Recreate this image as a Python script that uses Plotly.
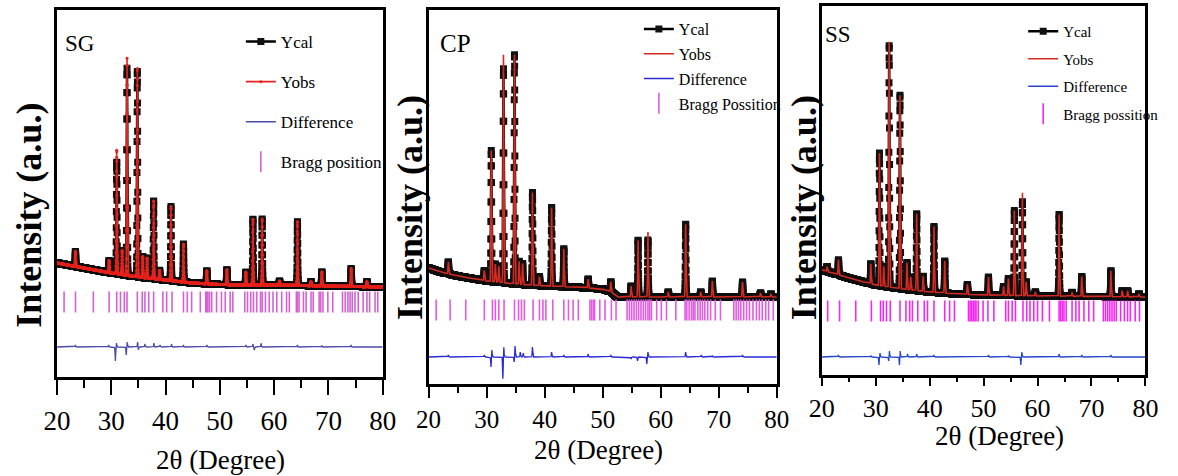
import numpy as np
import plotly.graph_objects as go

W, H = 1178, 476

# ---------------- data ----------------
# 2-theta grid of the measurement
two_theta = np.arange(20.0, 80.0001, 0.015)

# --- SG panel ---
sg_bg_x = [20, 22, 25, 30, 35, 40, 45, 50, 55, 60, 70, 80]
sg_bg_y = [114, 112, 109, 104, 100, 97, 94, 92.5, 92, 92, 91, 90]
sg_peak_pos = [23.4, 29.6, 31.0, 32.0, 32.9, 34.8, 35.8, 36.6, 37.8, 38.9, 41.0, 43.3,
               47.6, 51.3, 54.8, 56.1, 57.8, 61.0, 64.3, 66.8, 68.8, 74.2, 77.1]
sg_peak_h = [15, 12, 112, 24, 207, 206, 21, 20, 78, 9, 74, 38,
             13, 15, 13, 66, 66, 4, 64, 4, 14, 18, 5]
sg_obs_excess_pos = [31.0, 32.9, 34.8]
sg_obs_excess_h = [12, 10, 3]
sg_diff_pos = [23.4, 29.5, 30.75, 30.95, 32.75, 32.95, 34.85, 35.0, 36.2, 37.85, 39.0,
               41.1, 43.3, 47.6, 54.8, 56.1, 56.35, 57.6, 64.3, 68.8, 74.2]
sg_diff_h = [2, 2, -14, 4, -8, 5, 5, -3, 3, 4, 2, 3, 2, 2, 2, 3, -3, 4, 2, 1.5, 2]
sg_diff_base = 30
sg_bragg = [21.3, 23.4, 26.7, 29.6, 31.0, 31.7, 32.4, 32.9, 34.8, 35.7, 36.2, 36.9, 37.8,
            39.5, 40.2, 41.2, 43.3, 44.0, 44.8, 46.4, 47.4, 47.6, 47.8, 48.1, 48.5, 49.4,
            50.3, 51.0, 51.9, 52.4, 54.6, 55.1, 55.7, 56.2, 56.8, 57.5, 57.8, 58.4, 59.1,
            59.8, 60.5, 61.4, 62.3, 62.8, 64.1, 64.3, 64.6, 65.4, 65.9, 66.8, 67.2, 68.3,
            68.6, 69.0, 69.9, 70.8, 72.6, 73.1, 73.6, 74.0, 74.4, 74.9, 75.5, 76.4, 77.1,
            77.6, 78.6, 79.1]
sg_bragg_level = 75

# --- CP panel ---
cp_bg_x = [20, 22, 25, 30, 35, 40, 45, 50, 51.5, 52.5, 60, 70, 80]
cp_bg_y = [116, 112, 108, 103, 100, 98, 97, 95, 92, 87, 87, 87, 87]
cp_peak_pos = [23.4, 29.6, 30.8, 31.5, 32.1, 32.9, 34.8, 35.6, 36.2, 37.9, 39.1, 41.2,
               43.3, 47.5, 51.4, 54.9, 56.1, 57.8, 61.3, 64.3, 66.9, 68.9, 74.1, 77.2, 79.0]
cp_peak_h = [12, 10, 131, 18, 16, 214, 230, 23, 21, 93, 9, 79,
             38, 9, 10, 11, 57, 57, 5, 73, 5, 16, 15, 4, 3]
cp_obs_excess_pos = [32.9, 57.8]
cp_obs_excess_h = [14, 8]
cp_diff_pos = [23.4, 29.6, 30.75, 30.9, 32.8, 32.95, 34.75, 34.9, 35.8, 36.3, 37.9, 41.2,
               43.3, 47.5, 51.4, 54.9, 56.0, 57.6, 57.8, 64.3, 67.0, 68.9, 74.1]
cp_diff_h = [2, 2, -10, 7, -22, 10, -5, 11, 5, 4, 10, 5, 2, 3, 2, -2, -4, -7, 5, 5, 2, 1.5, 2]
cp_diff_base = 27
cp_bragg = [21.3, 23.7, 26.4, 29.6, 31.0, 31.5, 32.1, 33.0, 34.8, 35.5, 36.0, 36.5, 38.0,
            39.1, 39.7, 40.2, 41.4, 43.3, 44.1, 44.9, 45.8, 47.8, 48.1, 48.4, 48.6, 49.5,
            50.4, 51.5, 52.3, 54.2, 54.6, 55.0, 55.4, 55.8, 56.2, 56.6, 57.0, 57.4, 57.8,
            58.1, 58.4, 59.3, 60.1, 61.0, 62.6, 64.2, 64.5, 64.9, 65.3, 65.6, 65.9, 66.4,
            66.8, 67.2, 67.6, 68.1, 68.6, 69.4, 70.3, 72.6, 73.0, 73.4, 73.8, 74.3, 74.8,
            75.3, 75.9, 76.5, 77.0, 77.5, 78.1, 78.6, 79.4]
cp_bragg_level = 74

# --- SS panel ---
ss_bg_x = [20, 22, 25, 30, 35, 40, 45, 50, 60, 70, 80]
ss_bg_y = [105, 102, 97, 90, 86, 83, 81, 80, 79, 78.5, 78]
ss_peak_pos = [21.0, 23.1, 29.1, 30.7, 31.5, 32.5, 34.5, 35.8, 36.5, 37.6, 38.8, 40.8,
               42.8, 47.0, 50.9, 53.7, 54.6, 55.7, 57.2, 57.9, 59.6, 64.0, 66.4, 68.2,
               73.6, 75.7, 76.7, 78.8]
ss_peak_h = [5, 15, 20, 133, 20, 242, 194, 27, 13, 77, 15, 66,
             32, 10, 18, 9, 17, 85, 94, 14, 4, 82, 4, 20,
             26, 6, 6, 3]
ss_obs_excess_pos = [32.5, 57.2]
ss_obs_excess_h = [4, 9]
ss_diff_pos = [23.1, 29.1, 30.6, 30.8, 32.4, 32.55, 34.4, 34.55, 35.9, 37.6, 40.8,
               50.9, 54.6, 56.9, 57.1, 64.0, 68.2, 73.6]
ss_diff_h = [2, 1.5, -8, 4, -4, 6, -8, 6, 3, 3, 2, 2, 1.5, -8, 5, 3, 2, 2]
ss_diff_base = 18
ss_bragg = [21.1, 23.3, 26.3, 29.2, 30.9, 31.4, 32.0, 32.7, 34.5, 35.6, 36.3, 36.8, 37.8,
            39.0, 39.6, 40.8, 42.8, 43.7, 44.6, 47.2, 47.5, 47.8, 48.1, 48.4, 48.6, 49.0,
            49.9, 50.8, 51.9, 54.1, 54.6, 55.3, 55.9, 57.3, 58.0, 58.6, 59.3, 60.0, 60.9,
            62.2, 64.0, 64.3, 64.6, 64.9, 65.3, 66.4, 67.1, 67.7, 68.6, 69.5, 70.4, 72.2,
            72.6, 73.0, 73.4, 73.8, 74.2, 74.6, 75.4, 76.1, 76.7, 77.2, 78.1, 78.9]
ss_bragg_level = 64

sample_names = ["SG", "CP", "SS"]
bragg_labels = ["Bragg position", "Bragg Possition", "Bragg possition"]

# ---------------- profile building ----------------
SIGMA = 0.06


def peaks(x, pos, hts, sigma=SIGMA):
    out = np.zeros_like(x)
    for p, h in zip(pos, hts):
        out += h * np.exp(-0.5 * ((x - p) / sigma) ** 2)
    return out


panels = [
    dict(bg_x=sg_bg_x, bg_y=sg_bg_y, pos=sg_peak_pos, h=sg_peak_h,
         ex_pos=sg_obs_excess_pos, ex_h=sg_obs_excess_h,
         d_pos=sg_diff_pos, d_h=sg_diff_h, d_base=sg_diff_base,
         bragg=sg_bragg, b_level=sg_bragg_level),
    dict(bg_x=cp_bg_x, bg_y=cp_bg_y, pos=cp_peak_pos, h=cp_peak_h,
         ex_pos=cp_obs_excess_pos, ex_h=cp_obs_excess_h,
         d_pos=cp_diff_pos, d_h=cp_diff_h, d_base=cp_diff_base,
         bragg=cp_bragg, b_level=cp_bragg_level),
    dict(bg_x=ss_bg_x, bg_y=ss_bg_y, pos=ss_peak_pos, h=ss_peak_h,
         ex_pos=ss_obs_excess_pos, ex_h=ss_obs_excess_h,
         d_pos=ss_diff_pos, d_h=ss_diff_h, d_base=ss_diff_base,
         bragg=ss_bragg, b_level=ss_bragg_level),
]

# ---------------- layout geometry (pixels) ----------------
frames = [  # left, right, top, bottom
    (45, 378, 10, 377),
    (425, 781, 10, 384),
    (827, 1158, 6, 375),
]
styles = [
    dict(red="#e5231d", blue="#4b4ba8", mag="#d462d4", obs_marker=True,
         lfont=17, lgap=15, lx=233, ly=24, tlen=15, mlen=8, stand=3, tfs=27),
    dict(red="#d42a22", blue="#2a2ad8", mag="#e15ce0", obs_marker=False,
         lfont=16, lgap=1, lx=640, ly=12, tlen=11, mlen=6, stand=0, tfs=25),
    dict(red="#d42a22", blue="#2446cc", mag="#f22af0", obs_marker=False,
         lfont=15, lgap=5, lx=1033, ly=15, tlen=8, mlen=4, stand=0, tfs=26),
]
serif = "Liberation Serif, Times New Roman, serif"

fig = go.Figure()
layout = dict(width=W, height=H, margin=dict(l=0, r=0, t=0, b=0),
              paper_bgcolor="white", plot_bgcolor="white", showlegend=True,
              font=dict(family=serif, color="black"))
annotations = []

for i, (pn, (l, r, t, b), st) in enumerate(zip(panels, frames, styles)):
    k = "" if i == 0 else str(i + 1)
    xa, ya = "x" + k, "y" + k
    lg = "legend" + k
    ycal = np.interp(two_theta, pn["bg_x"], pn["bg_y"]) + peaks(two_theta, pn["pos"], pn["h"])
    yobs = ycal + peaks(two_theta, pn["ex_pos"], pn["ex_h"], 0.04)
    ydiff = pn["d_base"] + peaks(two_theta, pn["d_pos"], pn["d_h"], 0.05)

    fig.add_trace(go.Scatter(
        x=two_theta, y=ycal, mode="lines+markers", name="Ycal",
        line=dict(color="black", width=2.5),
        marker=dict(symbol="square", size=7, color="#111111"),
        xaxis=xa, yaxis=ya, legend=lg, legendgroup="a" + k, hoverinfo="skip"))
    fig.add_trace(go.Scatter(
        x=two_theta, y=yobs, mode="lines+markers" if st["obs_marker"] else "lines",
        name="Yobs", line=dict(color=st["red"], width=1.6),
        marker=dict(size=3, color=st["red"]),
        xaxis=xa, yaxis=ya, legend=lg, legendgroup="b" + k, hoverinfo="skip"))
    fig.add_trace(go.Scatter(
        x=two_theta, y=ydiff, mode="lines", name="Difference",
        line=dict(color=st["blue"], width=1.3),
        xaxis=xa, yaxis=ya, legend=lg, legendgroup="c" + k, hoverinfo="skip"))
    fig.add_trace(go.Scatter(
        x=pn["bragg"], y=[pn["b_level"]] * len(pn["bragg"]), mode="markers",
        name=bragg_labels[i],
        marker=dict(symbol="line-ns", size=15, line=dict(color=st["mag"], width=1.6)),
        xaxis=xa, yaxis=ya, legend=lg, legendgroup="d" + k, hoverinfo="skip"))

    layout["xaxis" + k] = dict(
        domain=[l / W, r / W], anchor=ya, range=[20, 80], tick0=20, dtick=10,
        showgrid=False, zeroline=False, showline=True, linecolor="black", linewidth=2.5,
        mirror=True, ticks="outside", ticklen=st["tlen"], tickwidth=2, tickcolor="black",
        ticklabelstandoff=st["stand"],
        minor=dict(ticks="outside", ticklen=st["mlen"], tickwidth=2, dtick=5,
                   tickcolor="black", showgrid=False),
        tickfont=dict(family=serif, size=st["tfs"], color="black"))
    layout["yaxis" + k] = dict(
        domain=[1 - b / H, 1 - t / H], anchor=xa, range=[0, b - t],
        showgrid=False, zeroline=False, showline=True, linecolor="black", linewidth=2.5,
        mirror=True, ticks="", showticklabels=False)
    layout[lg] = dict(
        x=st["lx"] / W, y=1 - st["ly"] / H, xanchor="left", yanchor="top",
        bgcolor="rgba(0,0,0,0)", borderwidth=0, traceorder="grouped",
        tracegroupgap=st["lgap"], font=dict(family=serif, size=st["lfont"], color="black"))

# text annotations: sample names, axis titles
name_pos = [(68, 43, 23), (452, 43, 25), (844, 35, 23)]
xt_pos = [(212, 460), (599, 450), (1009, 436)]
yt_pos = [(16, 215), (406, 208), (809, 208)]
for i in range(3):
    nx, ny, ns = name_pos[i]
    annotations.append(dict(text=sample_names[i], x=nx / W, y=1 - ny / H, xref="paper",
                            yref="paper", showarrow=False, xanchor="center", yanchor="middle",
                            font=dict(family=serif, size=ns, color="black")))
    tx, ty = xt_pos[i]
    annotations.append(dict(text="2θ (Degree)", x=tx / W, y=1 - ty / H, xref="paper",
                            yref="paper", showarrow=False, xanchor="center", yanchor="middle",
                            font=dict(family=serif, size=27, color="black")))
    yx, yy = yt_pos[i]
    annotations.append(dict(text="<b>Intensity (a.u.)</b>", x=yx / W, y=1 - yy / H,
                            xref="paper", yref="paper", showarrow=False, textangle=-90,
                            xanchor="center", yanchor="middle",
                            font=dict(family=serif, size=36, color="black")))

layout["annotations"] = annotations
fig.update_layout(**layout)
fig.write_html("out.html")
